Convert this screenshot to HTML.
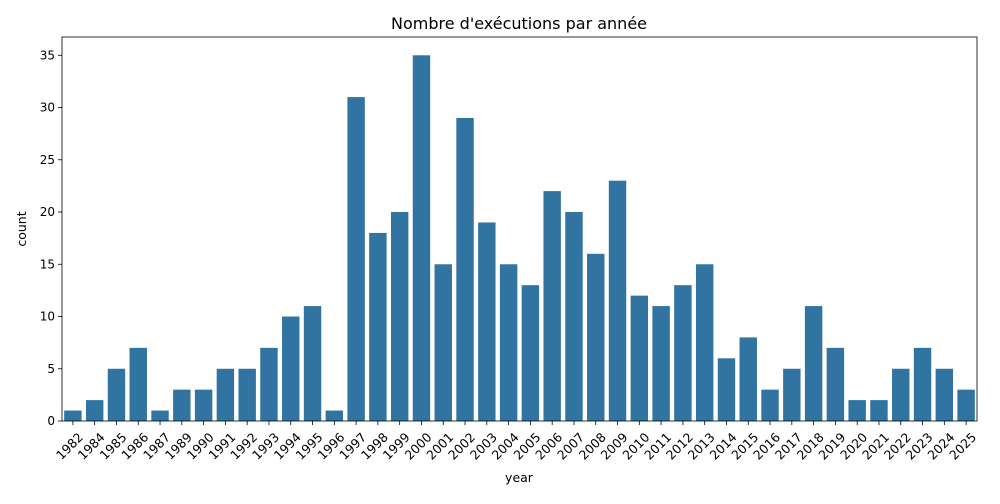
<!DOCTYPE html>
<html><head><meta charset="utf-8"><style>
body{margin:0;background:#fff;font-family:"DejaVu Sans","Liberation Sans",sans-serif;}
</style></head><body>
<svg id="chart" width="1000" height="500" xmlns="http://www.w3.org/2000/svg">
<rect width="1000" height="500" fill="#fff"/>
<text x="519" y="29" font-size="16" text-anchor="middle" fill="#000">Nombre d'exécutions par année</text>
<g id="bars"></g><g id="axes"></g>
<text x="519" y="482" font-size="12.5" text-anchor="middle">year</text>
<text transform="translate(26,229) rotate(-90)" font-size="12.5" text-anchor="middle">count</text>
</svg>
<script>
const categories=["1982","1984","1985","1986","1987","1989","1990","1991","1992","1993","1994","1995","1996","1997","1998","1999","2000","2001","2002","2003","2004","2005","2006","2007","2008","2009","2010","2011","2012","2013","2014","2015","2016","2017","2018","2019","2020","2021","2022","2023","2024","2025"];
const counts=[1,2,5,7,1,3,3,5,5,7,10,11,1,31,18,20,35,15,29,19,15,13,22,20,16,23,12,11,13,15,6,8,3,5,11,7,2,2,5,7,5,3];
const yTicks=[0,5,10,15,20,25,30,35];
const L=62,R=977,T=37,B=421,yMax=36.75;
const ns="http://www.w3.org/2000/svg";
const step=(R-L)/categories.length;
const x=i=>L+step*(i+0.5);
const y=v=>B-(v/yMax)*(B-T);
const bars=document.getElementById('bars'),axes=document.getElementById('axes');
function mk(tag,attrs,parent){const e=document.createElementNS(ns,tag);for(const k in attrs)e.setAttribute(k,attrs[k]);parent.appendChild(e);return e;}
counts.forEach((v,i)=>{
 const r=mk('rect',{x:x(i)-step*0.4,y:y(v),width:step*0.8,height:B-y(v),fill:'#3274a1'},bars);
 
 
 mk('line',{x1:x(i),x2:x(i),y1:B,y2:B+4,stroke:'#000','stroke-width':0.8},axes);
 const t=mk('text',{transform:`translate(${x(i)+11},${B+17}) rotate(-45)`,'font-size':12.5,'text-anchor':'end'},axes);
 t.textContent=categories[i];
 
 
});
yTicks.forEach(v=>{
 mk('line',{x1:L-4,x2:L,y1:y(v),y2:y(v),stroke:'#000','stroke-width':0.8},axes);
 const t=mk('text',{x:L-7,y:y(v)+4,'font-size':12,'text-anchor':'end'},axes);
 t.textContent=v;
 
 
});
const f=mk('rect',{x:L,y:T,width:R-L,height:B-T,fill:'none',stroke:'#000','stroke-width':0.8},axes);


</script>
</body></html>
